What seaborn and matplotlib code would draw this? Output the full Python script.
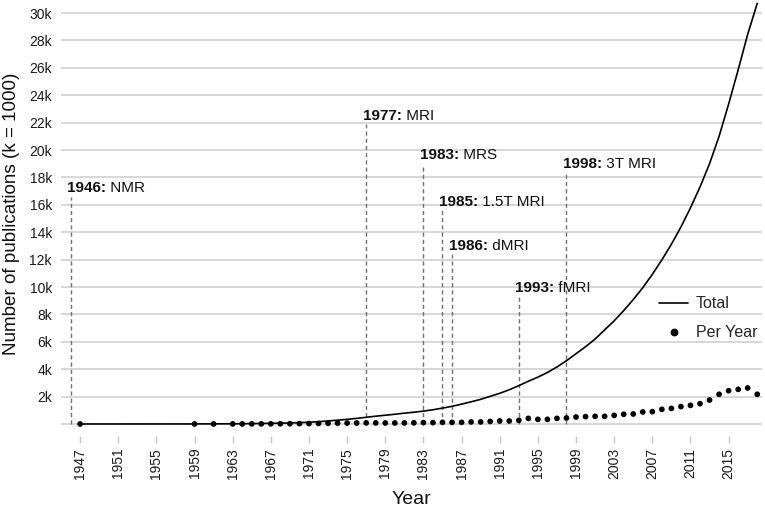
import matplotlib
matplotlib.use("Agg")
import matplotlib.pyplot as plt
import seaborn as sns
import pandas as pd
from matplotlib.ticker import FuncFormatter, FixedLocator
from matplotlib.lines import Line2D

# ---------------- data (values in thousands of publications) ----------------
years = [1947, 1959, 1961] + list(range(1963, 2019))
per_year_k = [0.001, 0.002, 0.003,
              0.005, 0.006, 0.008, 0.010, 0.012, 0.015, 0.020, 0.025, 0.030, 0.040,
              0.050, 0.060, 0.070, 0.070, 0.080, 0.080, 0.075, 0.075, 0.080, 0.085,
              0.10, 0.10, 0.12, 0.12, 0.12, 0.15, 0.15, 0.19, 0.22, 0.22,
              0.27, 0.41, 0.34, 0.34, 0.41, 0.44, 0.51, 0.54, 0.56, 0.56,
              0.63, 0.71, 0.73, 0.88, 0.90, 1.07, 1.14, 1.27, 1.36, 1.48,
              1.75, 2.17, 2.43, 2.53, 2.63, 2.17]
total_k = [0.0, 0.005, 0.01,
           0.015, 0.02, 0.03, 0.04, 0.05, 0.06, 0.08, 0.10, 0.13, 0.17,
           0.22, 0.28, 0.34, 0.41, 0.49, 0.57, 0.64, 0.71, 0.79, 0.86,
           0.94, 1.04, 1.16, 1.29, 1.45, 1.62, 1.80, 2.02, 2.24, 2.50,
           2.80, 3.12, 3.42, 3.76, 4.16, 4.62, 5.13, 5.64, 6.20, 6.87,
           7.53, 8.28, 9.08, 9.95, 10.92, 11.98, 13.12, 14.38, 15.78, 17.30,
           19.00, 21.00, 23.35, 25.85, 28.45, 30.70]

event_years = [1946, 1977, 1983, 1985, 1986, 1993, 1998]
event_names = ["NMR", "MRI", "MRS", "1.5T MRI", "dMRI", "fMRI", "3T MRI"]
event_heights_k = [16.6, 21.9, 19.0, 15.6, 12.4, 9.3, 18.4]

xtick_years = list(range(1947, 2016, 4))
ytick_values_k = list(range(0, 31, 2))

df = pd.DataFrame({"Year": years,
                   "Total": [v * 1000 for v in total_k],
                   "PerYear": [v * 1000 for v in per_year_k]})

# ---------------- style ----------------
sns.set_theme(style="whitegrid")
plt.rcParams["font.family"] = ["Liberation Sans", "DejaVu Sans"]

fig = plt.figure(figsize=(7.65, 5.08), dpi=100)
ax = fig.add_axes([61 / 765, 72 / 508, (762 - 61) / 765, 436 / 508])

grid_col = "#d4d4d4"
ax.set_xlim(1945.0, 2018.5)
ax.set_ylim(-876, 30950)

ax.yaxis.set_major_locator(FixedLocator([v * 1000 for v in ytick_values_k]))
ax.yaxis.set_major_formatter(FuncFormatter(lambda v, p: "" if v == 0 else f"{int(round(v / 1000))}k"))
ax.xaxis.set_major_locator(FixedLocator(xtick_years))

ax.grid(False)
ax.yaxis.grid(True, color=grid_col, linewidth=1.3)
for s in ax.spines.values():
    s.set_visible(False)

ax.tick_params(axis="y", length=0, pad=6.5, labelsize=10, labelcolor="#1a1a1a")
ax.tick_params(axis="x", length=5, width=1, color="#c8c8c8", direction="out",
               pad=3.5, labelsize=10, labelcolor="#1a1a1a", rotation=90, bottom=True)

# event markers
for yr, name, h in zip(event_years, event_names, event_heights_k):
    ax.plot([yr, yr], [0, h * 1000], color="#707070", linestyle=(0, (3, 2.2)),
            linewidth=1.0, zorder=1)
    t1 = ax.annotate(f"{yr}:", xy=(yr, h * 1000), xytext=(-2.5, 1.0),
                     textcoords="offset points", ha="left", va="bottom",
                     fontsize=11, fontweight="bold", color="#111111", zorder=4)
    ax.annotate(f" {name}", xy=(1, 0), xycoords=t1, ha="left", va="bottom",
                fontsize=11, color="#111111", zorder=4)

sns.lineplot(data=df, x="Year", y="Total", ax=ax, color="black", linewidth=1.2,
             zorder=3, legend=False)
sns.scatterplot(data=df, x="Year", y="PerYear", ax=ax, color="black", s=17,
                edgecolor="none", zorder=3, clip_on=False, legend=False)

ax.set_xlabel("Year", fontsize=14, color="#111111", labelpad=9)
ax.set_ylabel("Number of publications (k = 1000)", fontsize=13.6, color="#111111")
ax.yaxis.set_label_coords(-0.0585, 0.51)

handles = [Line2D([], [], color="black", linewidth=1.2),
           Line2D([], [], color="black", marker="o", linestyle="none", markersize=4.6)]
ax.legend(handles, ["Total", "Per Year"], loc="center right",
          bbox_to_anchor=(1.014, 0.27), frameon=False, fontsize=11.5,
          handlelength=1.8, handletextpad=0.5, labelspacing=0.9)

fig.savefig("out.png", dpi=100)
